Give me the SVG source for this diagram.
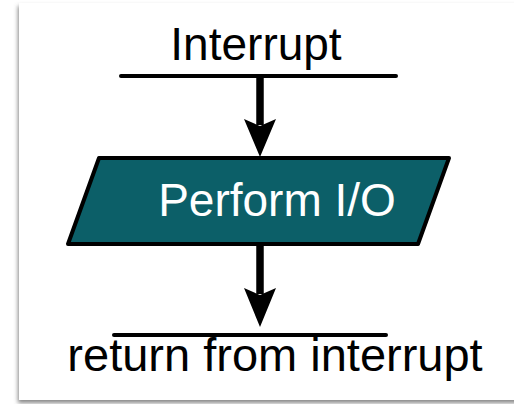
<svg xmlns="http://www.w3.org/2000/svg" width="514" height="404" viewBox="0 0 514 404">
  <style>
    .label { font-family: "Liberation Sans", Arial, sans-serif; font-size: 46px; text-anchor: middle; }
    .big { font-size: 47px; }
    .rule { stroke: #000; stroke-width: 4; stroke-linecap: round; fill: none; }
    .shaft { stroke: #000; stroke-width: 7.5; fill: none; }
    .head { fill: #000; }
  </style>
  <defs>
    <filter id="cardShadow" x="-10%" y="-10%" width="130%" height="130%">
      <feDropShadow dx="-1" dy="3" stdDeviation="2" flood-color="#555" flood-opacity="0.7"/>
    </filter>
  </defs>

  <!-- page background and card -->
  <rect x="0" y="0" width="514" height="404" fill="#fff"/>
  <rect x="19" y="3" width="520" height="397" fill="#fff" filter="url(#cardShadow)"/>

  <!-- start terminal: Interrupt -->
  <g id="interrupt">
    <text class="label" x="256" y="60">Interrupt</text>
    <line class="rule" x1="121" y1="76" x2="396" y2="76"/>
  </g>

  <!-- I/O step -->
  <g id="perform-io">
    <polygon points="99,158 449,158 418,244 68,244" fill="#0c5f68" stroke="#000" stroke-width="4" stroke-linejoin="round"/>
    <text class="label" x="277" y="216" fill="#fff">Perform I/O</text>
  </g>

  <!-- end terminal: return from interrupt -->
  <g id="return">
    <line class="rule" x1="114" y1="335" x2="386" y2="335"/>
    <text class="label big" x="275" y="371">return from interrupt</text>
  </g>

  <!-- connectors -->
  <g id="connectors">
    <line class="shaft" x1="260" y1="76" x2="260" y2="125"/>
    <path class="head" d="M244,119 L260,126 L276,119 L260,157 Z"/>
    <line class="shaft" x1="260" y1="244" x2="260" y2="294"/>
    <path class="head" d="M244,288 L260,295 L276,288 L260,327 Z"/>
  </g>
</svg>
